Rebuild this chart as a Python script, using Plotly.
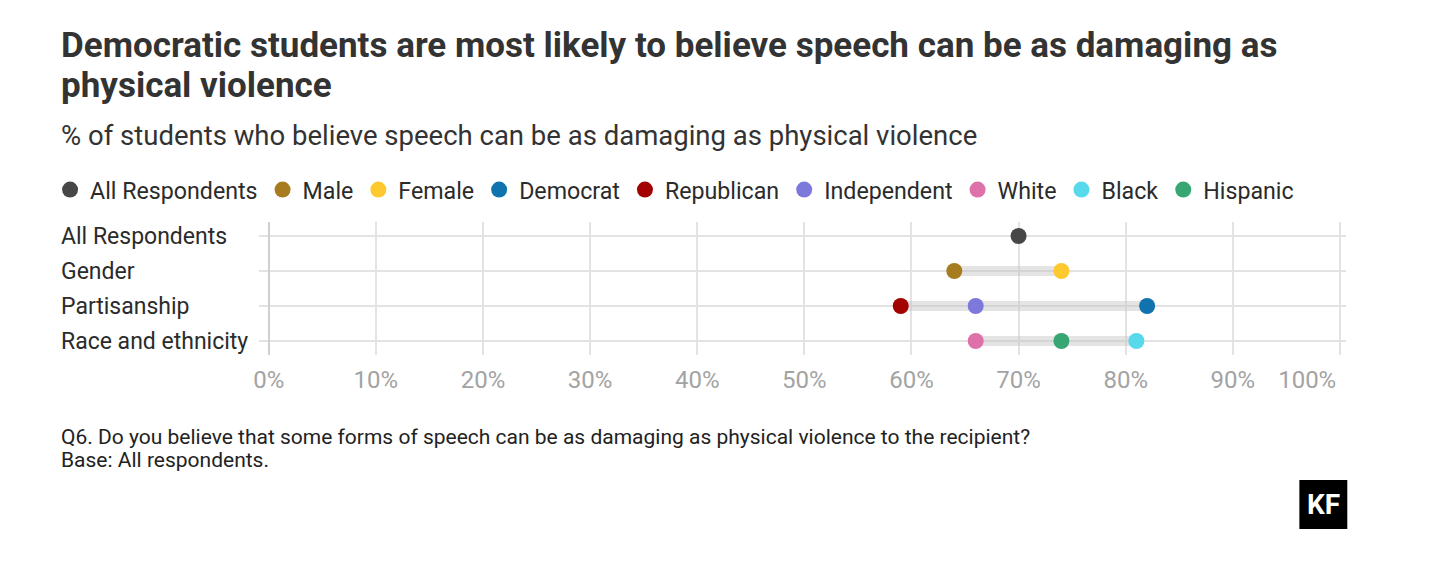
"""Dumbbell chart: speech as damaging as physical violence."""
import plotly.graph_objects as go

# Data
rows = ["All Respondents", "Gender", "Partisanship", "Race and ethnicity"]
groups = ["All Respondents", "Male", "Female", "Democrat", "Republican",
          "Independent", "White", "Black", "Hispanic"]
group_row = ["All Respondents", "Gender", "Gender", "Partisanship",
             "Partisanship", "Partisanship", "Race and ethnicity",
             "Race and ethnicity", "Race and ethnicity"]
values = [70, 64, 74, 82, 59, 66, 66, 81, 74]
colors = ["#474747", "#a67c1f", "#fec92e", "#1173ad", "#a30202",
          "#7c78dc", "#de71aa", "#56d9ea", "#37a673"]
tick_vals = [0, 10, 20, 30, 40, 50, 60, 70, 80, 90, 100]
tick_text = ["0%", "10%", "20%", "30%", "40%", "50%", "60%", "70%", "80%",
             "90%", "100%" + "\u00a0" * 11]

FONT = "Roboto, Arial, sans-serif"
W, H = 1456, 565


def px_y(y):
    """Pixel from top to paper fraction."""
    return 1 - y / H


fig = go.Figure()

# grey connectors from min to max in each row
for i, r in enumerate(rows):
    vals = [v for v, g in zip(values, group_row) if g == r]
    if len(vals) > 1:
        fig.add_trace(go.Scatter(
            x=[min(vals), max(vals)], y=[i, i], mode="lines",
            line=dict(color="rgba(190,190,190,0.42)", width=10),
            showlegend=False, hoverinfo="skip"))

for g, r, v, c in zip(groups, group_row, values, colors):
    fig.add_trace(go.Scatter(
        x=[v], y=[rows.index(r)], mode="markers", name=g,
        marker=dict(color=c, size=16, line=dict(width=0))))

# row labels, left aligned
for i, r in enumerate(rows):
    fig.add_annotation(x=56 / W, xref="paper", y=i, yref="y", text=r,
                       showarrow=False, xanchor="left", yanchor="middle",
                       font=dict(family=FONT, size=23, color="#2b2b2b"))

# title, two lines
title_lines = ["Democratic students are most likely to believe speech can "
               "be as damaging as", "physical violence"]
for line, yy in zip(title_lines, [45, 85]):
    fig.add_annotation(
        x=56 / W, y=px_y(yy), xref="paper", yref="paper", xanchor="left",
        yanchor="middle", showarrow=False, text=f"<b>{line}</b>",
        font=dict(family=FONT, size=35, color="#333333"))

fig.add_annotation(
    x=56 / W, y=px_y(135), xref="paper", yref="paper", xanchor="left",
    yanchor="middle", showarrow=False,
    text="% of students who believe speech can be as damaging as physical "
         "violence",
    font=dict(family=FONT, size=27.5, color="#333333"))

notes = ["Q6. Do you believe that some forms of speech can be as damaging "
         "as physical violence to the recipient?", "Base: All respondents."]
for line, yy in zip(notes, [437, 460]):
    fig.add_annotation(
        x=56 / W, y=px_y(yy), xref="paper", yref="paper", xanchor="left",
        yanchor="middle", showarrow=False, text=line,
        font=dict(family=FONT, size=21, color="#222222"))

# KF logo
fig.add_shape(type="rect", xref="paper", yref="paper",
              x0=1350 / W, x1=1400 / W, y0=px_y(529), y1=px_y(480),
              fillcolor="black", line=dict(width=0))
fig.add_annotation(x=1375 / W, y=px_y(505), xref="paper", yref="paper",
                   xanchor="center", yanchor="middle",
                   text="<b>KF</b>", showarrow=False,
                   font=dict(family=FONT, size=28, color="white"))

fig.update_layout(
    width=W, height=H, autosize=False,
    margin=dict(l=0, r=0, t=0, b=0),
    paper_bgcolor="white", plot_bgcolor="white",
    font=dict(family=FONT, color="#2b2b2b"),
    legend=dict(orientation="h", x=47 / W, y=px_y(168),
                xanchor="left", yanchor="top",
                font=dict(family=FONT, size=23.2, color="#2b2b2b"),
                itemwidth=30, tracegroupgap=0),
    xaxis=dict(domain=[265 / W, 1399 / W], range=[-0.9, 100.6],
               tickvals=tick_vals, ticktext=tick_text,
               showgrid=True, gridcolor="#e3e3e3", gridwidth=1.5,
               zeroline=True, zerolinecolor="#cfcfcf", zerolinewidth=2,
               showline=False, ticks="", ticklen=0, ticklabelstandoff=8,
               tickfont=dict(family=FONT, size=24, color="#a3a3a3")),
    yaxis=dict(domain=[px_y(355), px_y(222)], range=[3.4, -0.4],
               tickvals=[0, 1, 2, 3], showticklabels=False,
               showgrid=True, gridcolor="#e3e3e3", gridwidth=1.5,
               zeroline=False, showline=False),
)

fig.write_html("out.html",
               config={"responsive": False, "displayModeBar": False},
               post_script="document.body.style.margin='0';")
